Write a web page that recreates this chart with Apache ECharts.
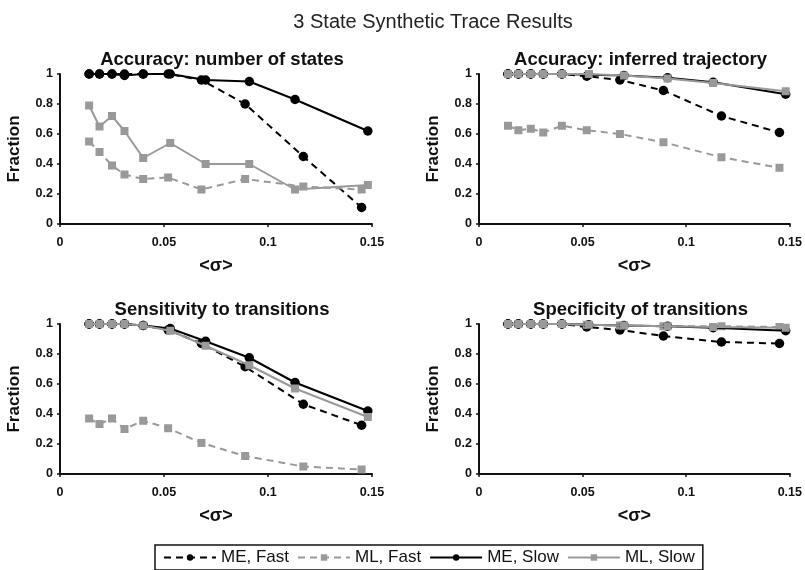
<!DOCTYPE html>
<html><head><meta charset="utf-8">
<script src="https://cdn.jsdelivr.net/npm/echarts@6/dist/echarts.min.js"></script>
<style>html,body{margin:0;padding:0;background:#fff}#c{width:805px;height:570px}</style>
</head><body><div id="c"></div>
<script>
// Data
const sigmaFast = [0.014, 0.019, 0.025, 0.031, 0.040, 0.052, 0.068, 0.089, 0.117, 0.145];
const sigmaSlow = [0.014, 0.019, 0.025, 0.031, 0.040, 0.053, 0.070, 0.091, 0.113, 0.148];
const panelTitles = ['Accuracy: number of states', 'Accuracy: inferred trajectory', 'Sensitivity to transitions', 'Specificity of transitions'];
const seriesNames = ['ME, Fast', 'ML, Fast', 'ME, Slow', 'ML, Slow'];
const xTicks = [0, 0.05, 0.1, 0.15];
const yTicks = [0, 0.2, 0.4, 0.6, 0.8, 1];

// Panel 1: number of states
const p1_MEFast = [1, 1, 1, 1, 1, 1, 0.96, 0.80, 0.45, 0.11];
const p1_MLFast = [0.55, 0.48, 0.39, 0.33, 0.30, 0.31, 0.23, 0.30, 0.25, 0.23];
const p1_MESlow = [1, 1, 1, 0.99, 1, 1, 0.96, 0.95, 0.83, 0.62];
const p1_MLSlow = [0.79, 0.65, 0.72, 0.62, 0.44, 0.54, 0.40, 0.40, 0.23, 0.26];
// Panel 2: inferred trajectory
const p2_MEFast = [1, 1, 1, 1, 1, 0.985, 0.96, 0.89, 0.72, 0.61];
const p2_MLFast = [0.655, 0.625, 0.635, 0.61, 0.655, 0.625, 0.60, 0.545, 0.445, 0.375];
const p2_MESlow = [1, 1, 1, 1, 1, 0.995, 0.99, 0.975, 0.945, 0.865];
const p2_MLSlow = [1, 1, 1, 1, 1, 1, 0.99, 0.97, 0.94, 0.885];
// Panel 3: sensitivity
const p3_MEFast = [1, 1, 1, 1, 0.99, 0.96, 0.87, 0.715, 0.465, 0.325];
const p3_MLFast = [0.37, 0.333, 0.37, 0.30, 0.355, 0.305, 0.207, 0.12, 0.05, 0.03];
const p3_MESlow = [1, 1, 1, 1, 0.99, 0.97, 0.885, 0.775, 0.61, 0.42];
const p3_MLSlow = [1, 1, 1, 1, 0.99, 0.955, 0.855, 0.725, 0.57, 0.38];
// Panel 4: specificity
const p4_MEFast = [1, 1, 1, 1, 1, 0.98, 0.96, 0.92, 0.88, 0.87];
const p4_MLFast = [1, 1, 1, 1, 1, 0.995, 0.99, 0.985, 0.985, 0.98];
const p4_MESlow = [1, 1, 1, 1, 1, 0.995, 0.99, 0.985, 0.975, 0.955];
const p4_MLSlow = [1, 1, 1, 1, 1, 0.995, 0.99, 0.985, 0.98, 0.975];

const panels = [
  [p1_MEFast, p1_MLFast, p1_MESlow, p1_MLSlow],
  [p2_MEFast, p2_MLFast, p2_MESlow, p2_MLSlow],
  [p3_MEFast, p3_MLFast, p3_MESlow, p3_MLSlow],
  [p4_MEFast, p4_MLFast, p4_MESlow, p4_MLSlow]
];

const FONT = 'Liberation Sans, Arial, Helvetica, sans-serif';
const GRAY = '#999999';
const grids = [
  {left: 60, top: 74, width: 312, height: 150},
  {left: 479, top: 74, width: 311, height: 150},
  {left: 60, top: 324, width: 312, height: 150},
  {left: 479, top: 324, width: 311, height: 150}
];
const styles = [
  {color: '#000', type: 'dashed', symbol: 'circle', x: sigmaFast},
  {color: GRAY, type: 'dashed', symbol: 'rect', x: sigmaFast},
  {color: '#000', type: 'solid', symbol: 'circle', x: sigmaSlow},
  {color: GRAY, type: 'solid', symbol: 'rect', x: sigmaSlow}
];

const titles = [{text: '3 State Synthetic Trace Results', left: 428, top: 7, textAlign: 'center',
  textStyle: {fontFamily: FONT, fontSize: 20, fontWeight: 'normal', color: '#222'}}];
panelTitles.forEach((t, i) => {
  const g = grids[i];
  titles.push({text: t, left: g.left + g.width / 2 + 1, top: g.top - 29, textAlign: 'center',
    textStyle: {fontFamily: FONT, fontSize: 18.5, fontWeight: 'bold', color: '#111'}});
});

const xAxes = grids.map((g, i) => ({
  type: 'value', gridIndex: i, min: xTicks[0], max: xTicks[xTicks.length - 1], interval: 0.05,
  name: '<σ>', nameLocation: 'middle', nameGap: 33,
  nameTextStyle: {fontFamily: FONT, fontSize: 18, fontWeight: 'bold', color: '#111'},
  axisLine: {lineStyle: {color: '#111', width: 2}},
  axisTick: {show: true, length: 3, lineStyle: {color: '#111', width: 1.5}},
  axisLabel: {fontFamily: FONT, fontSize: 12.5, fontWeight: 'bold', color: '#111', margin: 12},
  splitLine: {show: false}
}));
const yAxes = grids.map((g, i) => ({
  type: 'value', gridIndex: i, min: yTicks[0], max: yTicks[yTicks.length - 1], interval: 0.2,
  name: 'Fraction', nameLocation: 'middle', nameGap: 37, nameRotate: 90,
  nameTextStyle: {fontFamily: FONT, fontSize: 17, fontWeight: 'bold', color: '#111'},
  axisLine: {show: true, lineStyle: {color: '#111', width: 2}},
  axisTick: {show: true, length: 3, lineStyle: {color: '#111', width: 1.5}},
  axisLabel: {fontFamily: FONT, fontSize: 12.5, fontWeight: 'bold', color: '#111', margin: 7},
  splitLine: {show: false}
}));

const series = [];
panels.forEach((p, i) => {
  p.forEach((vals, k) => {
    const st = styles[k];
    series.push({
      name: seriesNames[k], type: 'line', xAxisIndex: i, yAxisIndex: i,
      data: vals.map((v, j) => [st.x[j], v]),
      symbol: st.symbol, symbolSize: st.symbol === 'circle' ? 9.5 : 8,
      showSymbol: true, animation: false, z: 2 + k,
      lineStyle: {color: st.color, width: 2, type: st.type === 'dashed' ? [7, 5] : 'solid'},
      itemStyle: {color: st.color, borderWidth: 0}
    });
  });
});

const chart = echarts.init(document.getElementById('c'), null, {renderer: 'canvas'});
chart.setOption({
  backgroundColor: '#fff',
  animation: false,
  title: titles,
  grid: grids,
  xAxis: xAxes,
  yAxis: yAxes,
  legend: {
    data: seriesNames, left: 155, top: 545, itemWidth: 52, itemHeight: 8, itemGap: 8,
    borderColor: '#111', borderWidth: 1.5, padding: [4, 8, 4, 8],
    textStyle: {fontFamily: FONT, fontSize: 17, color: '#111', padding: [0, 0, 0, 0]}
  },
  series: series
});
</script></body></html>
